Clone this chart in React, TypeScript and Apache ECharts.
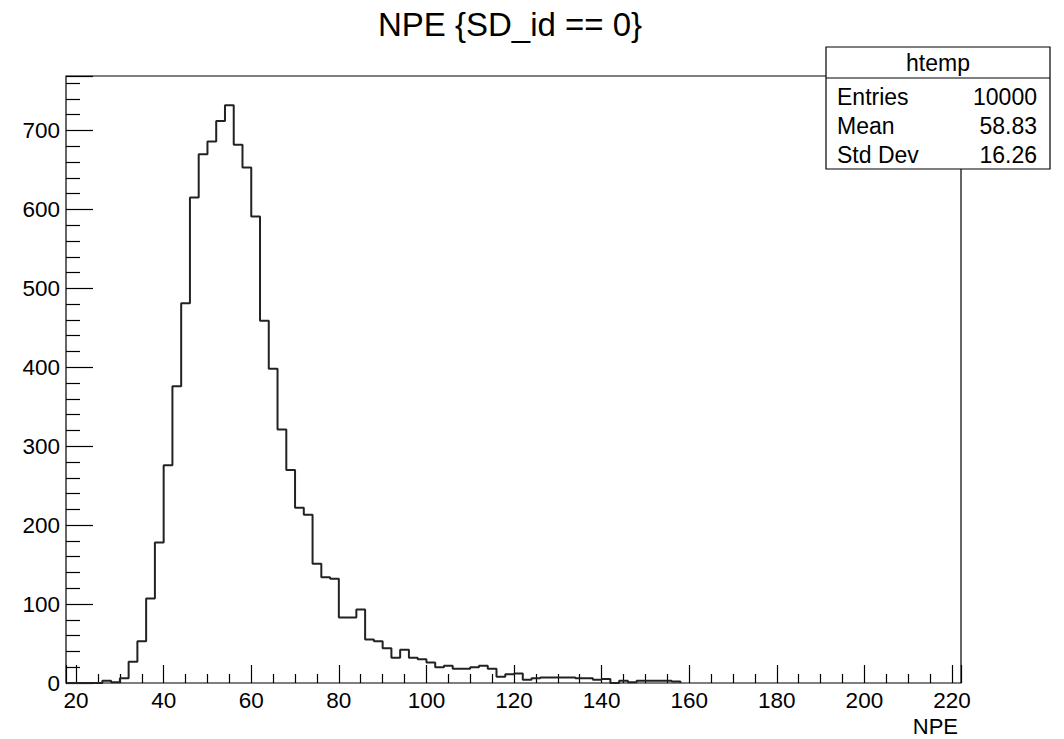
import React, { useEffect, useRef } from "react";
import * as echarts from "echarts";

const chartTitle = "NPE {SD_id == 0}";
const xAxisTitle = "NPE";
const binLow = 18;
const binWidth = 2;
// bin contents, bins starting at 18 (width 2)
const counts = [
  0, 0, 0, 0, 3, 1, 6, 27, 53, 107, 178, 276, 376, 481, 615, 670, 686, 712, 732, 682,
  653, 591, 459, 398, 321, 270, 222, 213, 151, 134, 132, 83, 83, 93, 55, 53, 44, 32, 42, 32,
  30, 26, 20, 22, 18, 18, 20, 22, 18, 8, 11, 12, 4, 6, 7, 7, 7, 7, 6, 6,
  4, 5, 0, 3, 1, 3, 3, 3, 3, 2,
];
const statsTitle = "htemp";
const statsLabels = ["Entries", "Mean", "Std Dev"];
const statsValues = ["10000", "58.83", "16.26"];

const FONT = "Liberation Sans, Arial, Helvetica, sans-serif";

export default function App() {
  const ref = useRef<HTMLDivElement>(null);
  useEffect(() => {
    if (!ref.current) return;
    const chart = echarts.init(ref.current, undefined, { renderer: "svg" });
    const data: number[][] = counts.map((c, i) => [binLow + i * binWidth, c]);
    data.push([binLow + counts.length * binWidth, 0]);

    const rowY = [97, 126, 155];
    const statsGraphics: any[] = [
      {
        type: "rect",
        shape: { x: 826, y: 47, width: 224, height: 122 },
        style: { fill: "#fff", stroke: "#000", lineWidth: 1.2 },
        z: 100,
      },
      {
        type: "line",
        shape: { x1: 826, y1: 78, x2: 1050, y2: 78 },
        style: { stroke: "#000", lineWidth: 1.2 },
        z: 101,
      },
      {
        type: "text",
        x: 938,
        y: 63,
        style: { text: statsTitle, fontSize: 23, fontFamily: FONT, fill: "#000", align: "center", verticalAlign: "middle" },
        z: 101,
      },
    ];
    statsLabels.forEach((lab, i) => {
      statsGraphics.push({
        type: "text",
        x: 837,
        y: rowY[i],
        style: { text: lab, fontSize: 23, fontFamily: FONT, fill: "#000", align: "left", verticalAlign: "middle" },
        z: 101,
      });
      statsGraphics.push({
        type: "text",
        x: 1037,
        y: rowY[i],
        style: { text: statsValues[i], fontSize: 23, fontFamily: FONT, fill: "#000", align: "right", verticalAlign: "middle" },
        z: 101,
      });
    });

    chart.setOption({
      animation: false,
      backgroundColor: "#fff",
      grid: {
        left: 66,
        right: 103,
        top: 76,
        bottom: 56,
        show: true,
        borderColor: "#000",
        borderWidth: 1.2,
        containLabel: false,
      },
      xAxis: {
        type: "value",
        min: 17.7,
        max: 222.06,
        splitNumber: 10,
        axisLine: { show: false },
        splitLine: { show: false },
        axisTick: { show: true, inside: true, length: 18, lineStyle: { color: "#000", width: 1.2 } },
        minorTick: { show: true, splitNumber: 4, length: 9, lineStyle: { color: "#000", width: 1.2 } },
        minorSplitLine: { show: false },
        axisLabel: {
          showMinLabel: false,
          showMaxLabel: false,
          fontSize: 22.5,
          fontFamily: FONT,
          color: "#000",
          margin: 6,
        },
      },
      yAxis: {
        type: "value",
        min: 0,
        max: 769,
        splitNumber: 8,
        axisLine: { show: false },
        splitLine: { show: false },
        axisTick: { show: true, inside: true, length: 27, lineStyle: { color: "#000", width: 1.2 } },
        minorTick: { show: true, splitNumber: 5, length: 14, lineStyle: { color: "#000", width: 1.2 } },
        minorSplitLine: { show: false },
        axisLabel: {
          showMaxLabel: false,
          fontSize: 22.5,
          fontFamily: FONT,
          color: "#000",
          margin: 6,
        },
      },
      series: [
        {
          type: "line",
          step: "end",
          data,
          symbol: "none",
          lineStyle: { color: "#222", width: 2 },
          clip: true,
          z: 3,
        },
      ],
      graphic: [
        {
          type: "text",
          x: 510,
          y: 24,
          style: { text: chartTitle, fontSize: 33, fontFamily: FONT, fill: "#000", align: "center", verticalAlign: "middle" },
        },
        {
          type: "text",
          x: 958,
          y: 726,
          style: { text: xAxisTitle, fontSize: 22, fontFamily: FONT, fill: "#000", align: "right", verticalAlign: "middle" },
        },
        ...statsGraphics,
      ],
    });
    return () => chart.dispose();
  }, []);
  return <div ref={ref} style={{ position: "fixed", left: 0, top: 0, width: 1064, height: 739 }} />;
}
